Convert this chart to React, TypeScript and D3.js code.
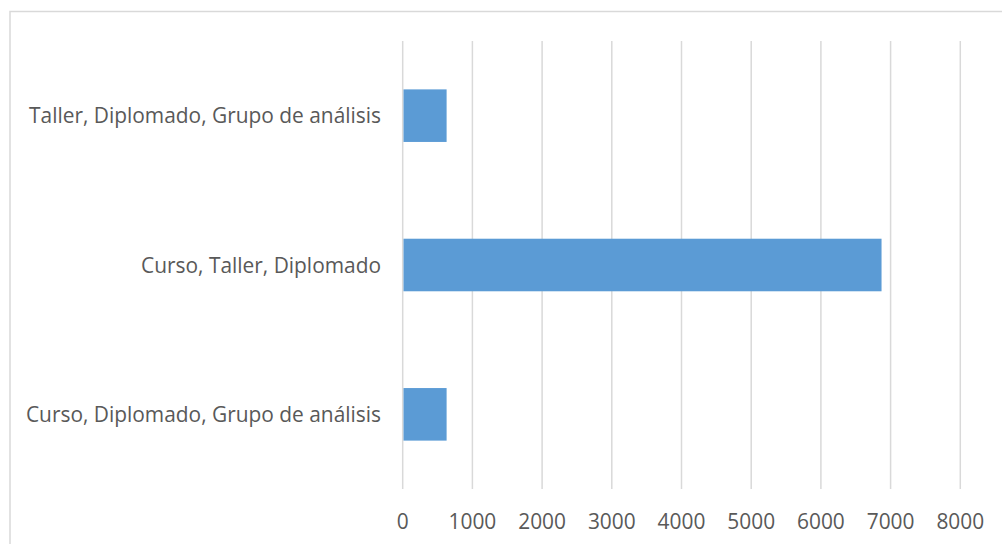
import { useMemo } from "react";
import * as d3 from "d3";

const categories = [
  "Taller, Diplomado, Grupo de análisis",
  "Curso, Taller, Diplomado",
  "Curso, Diplomado, Grupo de análisis",
];
const values = [630, 6870, 630];
const ticks = [0, 1000, 2000, 3000, 4000, 5000, 6000, 7000, 8000];

const W = 1002;
const H = 544;
const FONT = "'Open Sans', sans-serif";

export default function App() {
  const x = useMemo(() => d3.scaleLinear().domain([0, 8000]).range([402.7, 960.3]), []);
  const y = useMemo(
    () => d3.scaleBand<string>().domain(categories).range([41, 489]).paddingInner(0.648).paddingOuter(0.324),
    [],
  );

  return (
    <svg
      width={W}
      height={H}
      style={{ position: "fixed", left: 0, top: 0, background: "#fff" }}
      fontFamily={FONT}
    >
      <rect x={10} y={11.5} width={W + 20} height={H + 20} fill="#fff" stroke="#d9d9d9" strokeWidth={1.5} />

      <g>
        {ticks.map((t) => (
          <line key={t} x1={x(t)} x2={x(t)} y1={41} y2={489} stroke="#d9d9d9" strokeWidth={1.5} />
        ))}
      </g>

      <g>
        {categories.map((c, i) => (
          <rect
            key={c}
            x={x(0) + 0.8}
            y={y(c)!}
            width={x(values[i]) - x(0) - 0.8}
            height={y.bandwidth()}
            fill="#5b9bd5"
          />
        ))}
      </g>

      <g fill="#595959" fontSize={20.9}>
        {categories.map((c) => (
          <text key={c} x={381} y={y(c)! + y.bandwidth() / 2} dy="0.37em" textAnchor="end">
            {c}
          </text>
        ))}
        {ticks.map((t) => (
          <text key={t} x={x(t)} y={522} dy="0.35em" textAnchor="middle">
            {t}
          </text>
        ))}
      </g>
    </svg>
  );
}
